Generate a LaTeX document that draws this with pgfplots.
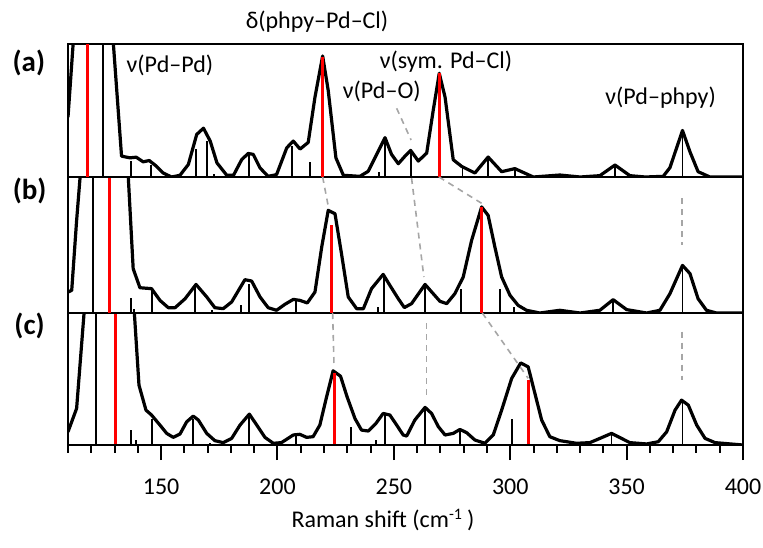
\documentclass[border=0pt]{standalone}
\usepackage{fontspec}
\setmainfont{Carlito}
\usepackage{pgfplots}
\pgfplotsset{compat=1.18}
\definecolor{dashgray}{HTML}{A6A6A6}
\begin{document}
\begin{tikzpicture}
\pgfplotsset{
  panel/.style={width=337.5pt, scale only axis, xmin=110, xmax=400, ymin=0, ymax=1,
    ytick=\empty, axis line style={line width=1pt, black}, anchor=south west},
  curve/.style={black, line width=1.6pt, line join=round, mark=none},
  bstick/.style={ycomb, black, line width=0.9pt, mark=none},
  rstick/.style={ycomb, red, line width=1.5pt, mark=none},
  conn/.style={dashgray, line width=0.8pt, dash pattern=on 3pt off 2.5pt},
}
% ---------------- panel (c) ----------------
\begin{axis}[panel, at={(0,0)}, height=66pt, xtick=\empty]
\addplot[bstick] coordinates {(122.0,1.5) (137.1,0.113) (139.1,0.038) (146.0,0.194) (163.8,0.2) (171.0,0.018) (187.9,0.227) (207.9,0.076) (231.6,0.134) (242.3,0.038) (246.2,0.239) (263.4,0.285) (278.4,0.113) (300.9,0.2) (343.5,0.088) (374.0,0.34)};
\addplot[curve] coordinates {(110.0,0.1) (113.7,0.277) (116.9,1.0) (125,3) (138.4,1.03) (140.5,0.453) (143.5,0.264) (145.9,0.227) (149.5,0.151) (152.4,0.088) (155.2,0.058) (158.1,0.083) (161.0,0.176) (163.8,0.219) (166.0,0.189) (169.6,0.088) (173.1,0.033) (176.7,0.018) (180.3,0.05) (183.9,0.151) (187.9,0.234) (191.1,0.151) (194.6,0.058) (198.2,0.013) (201.7,0.018) (206.8,0.076) (209.6,0.081) (212.5,0.058) (215.3,0.063) (218.2,0.151) (221.1,0.365) (223.9,0.562) (227.1,0.521) (229.9,0.365) (233.3,0.2) (236.1,0.113) (239.0,0.106) (242.3,0.164) (245.4,0.239) (248.3,0.227) (251.2,0.151) (254.0,0.076) (255.5,0.068) (259.0,0.189) (263.4,0.285) (266.2,0.239) (269.1,0.139) (272.0,0.076) (275.5,0.088) (278.4,0.118) (281.3,0.093) (284.8,0.038) (289.1,0.013) (292.7,0.076) (296.3,0.264) (300.6,0.504) (304.5,0.622) (307.7,0.592) (310.6,0.39) (313.5,0.189) (317.0,0.063) (321.3,0.033) (328.5,0.013) (334.2,0.018) (338.5,0.05) (343.5,0.088) (347.8,0.05) (351.4,0.018) (358.6,0.008) (363.6,0.025) (367.2,0.1) (370.8,0.264) (373.6,0.34) (376.5,0.302) (380.1,0.151) (383.7,0.05) (388.0,0.018) (400.0,0.0)};
\addplot[rstick] coordinates {(130.6,1.5) (224.3,0.547) (307.7,0.491)};
\end{axis}
% ---------------- tick axis under panel (c) ----------------
\begin{axis}[at={(0,0)}, anchor=south west, width=337.5pt, height=66pt, scale only axis,
  xmin=110, xmax=400, ymin=0, ymax=1, clip=false,
  axis x line*=bottom, axis y line=none,
  x axis line style={-, line width=1pt, black},
  xtick={150,200,...,400}, minor xtick={110,120,...,400},
  xtick align=outside,
  major tick length=7.5pt, minor tick length=3.8pt,
  major x tick style={line width=1pt, black},
  minor x tick style={line width=1pt, black},
  /pgf/number format/assume math mode=true,
  xticklabel style={font=\fontsize{12}{14}\selectfont, yshift=-6pt}]
% tick marks (major: 7.5pt, minor: 3.8pt below the axis line)
\addplot[ycomb, black, line width=1pt, mark=none] coordinates {(150,-0.1136) (200,-0.1136) (250,-0.1136) (300,-0.1136) (350,-0.1136) (400,-0.1136)};
\addplot[ycomb, black, line width=1pt, mark=none] coordinates {(110,-0.0576) (120,-0.0576) (130,-0.0576) (140,-0.0576) (160,-0.0576) (170,-0.0576) (180,-0.0576) (190,-0.0576) (210,-0.0576) (220,-0.0576) (230,-0.0576) (240,-0.0576) (260,-0.0576) (270,-0.0576) (280,-0.0576) (290,-0.0576) (310,-0.0576) (320,-0.0576) (330,-0.0576) (340,-0.0576) (360,-0.0576) (370,-0.0576) (380,-0.0576) (390,-0.0576)};
\end{axis}
% ---------------- panel (b) ----------------
\begin{axis}[panel, at={(0,66pt)}, height=68pt, xtick=\empty]
\addplot[bstick] coordinates {(120.9,1.5) (137.2,0.113) (138.3,0.03) (146.2,0.172) (164.6,0.216) (171.7,0.02) (184.3,0.056) (187.9,0.216) (207.9,0.105) (243.3,0.044) (245.9,0.277) (263.4,0.216) (278.7,0.179) (295.6,0.179) (301.6,0.044) (344.2,0.093) (374.0,0.35)};
\addplot[curve] coordinates {(110.0,0.154) (111.6,0.167) (113.7,0.68) (115.2,1.0) (122,3) (135.9,1.0) (138.0,0.326) (140.9,0.186) (145.9,0.179) (149.5,0.093) (153.1,0.039) (156.0,0.039) (160.3,0.105) (165.0,0.21) (169.6,0.118) (173.1,0.039) (176.7,0.032) (180.3,0.081) (186.0,0.245) (188.9,0.235) (192.5,0.118) (196.0,0.039) (199.6,0.02) (203.2,0.064) (206.8,0.1) (209.6,0.093) (212.8,0.074) (216.1,0.154) (219.0,0.485) (221.8,0.755) (224.7,0.73) (227.5,0.436) (230.4,0.118) (234.0,0.032) (236.9,0.032) (240.4,0.179) (245.4,0.284) (248.3,0.203) (251.9,0.105) (254.5,0.04) (257.6,0.069) (263.4,0.21) (266.9,0.142) (269.8,0.086) (272.7,0.069) (276.2,0.142) (279.8,0.265) (283.4,0.534) (287.7,0.78) (290.5,0.718) (293.4,0.485) (296.3,0.265) (299.9,0.13) (303.4,0.056) (307.0,0.02) (312.7,0.0) (321.3,0.02) (330.0,0.0) (338.5,0.02) (344.2,0.098) (350.0,0.025) (358.6,0.0) (364.3,0.02) (368.6,0.142) (374.0,0.35) (377.2,0.29) (380.7,0.105) (384.3,0.02) (388.6,0.0) (400.0,0.0)};
\addplot[rstick] coordinates {(128.0,1.5) (223.3,0.645) (287.7,0.78)};
\end{axis}
% ---------------- panel (a) ----------------
\begin{axis}[panel, at={(0,134pt)}, height=66.5pt, xtick=\empty]
\addplot[bstick] coordinates {(125.2,1.5) (137.0,0.12) (145.5,0.09) (165.0,0.21) (169.6,0.27) (172.8,0.02) (187.9,0.18) (206.4,0.23) (214.0,0.11) (243.7,0.04) (246.2,0.3) (257.2,0.2) (279.5,0.07) (290.5,0.15) (302.0,0.06) (345.0,0.09) (374.0,0.35)};
\addplot[curve] coordinates {(110.0,0.45) (112.2,1.0) (120,3) (129.5,1.0) (133.0,0.157) (136.6,0.144) (139.3,0.149) (142.3,0.114) (144.9,0.124) (148.0,0.081) (150.9,0.03) (154.5,0.0) (158.1,0.013) (161.7,0.094) (165.3,0.32) (168.2,0.367) (171.1,0.27) (174.0,0.106) (178.2,0.013) (181.1,0.013) (184.6,0.13) (187.4,0.177) (189.6,0.17) (192.5,0.068) (196.0,0.005) (199.6,0.018) (204.0,0.22) (206.8,0.27) (209.7,0.21) (213.2,0.26) (216.1,0.6) (219.4,0.91) (221.8,0.65) (225.1,0.144) (228.3,0.013) (235.4,0.005) (239.0,0.043) (242.6,0.17) (246.2,0.296) (249.0,0.17) (251.9,0.1) (254.8,0.157) (257.2,0.2) (260.5,0.12) (264.1,0.18) (266.9,0.5) (269.5,0.78) (272.0,0.6) (275.5,0.13) (279.1,0.08) (284.8,0.03) (290.5,0.15) (296.3,0.04) (302.0,0.063) (309.9,0.0) (321.3,0.015) (330.0,0.0) (338.5,0.01) (345.0,0.09) (351.4,0.01) (358.0,0.0) (365.7,0.005) (368.6,0.07) (374.0,0.35) (377.2,0.19) (380.7,0.04) (385.8,0.0) (400.0,0.0)};
\addplot[rstick] coordinates {(118.3,1.5) (219.5,0.9) (269.5,0.78)};
\end{axis}
% ---------------- overlay: connectors and labels ----------------
\begin{axis}[at={(0,0)}, anchor=south west, width=337.5pt, height=200.5pt, scale only axis,
  xmin=110, xmax=400, ymin=0, ymax=401, hide axis, clip=false]
\addplot[conn] coordinates {(219.4,268) (221.8,239)};
\addplot[conn] coordinates {(223.7,132) (224.3,78)};
\addplot[conn] coordinates {(251.2,336.7) (257.4,305)};
\addplot[conn] coordinates {(257.6,267) (262.9,168)};
\addplot[conn] coordinates {(264.1,122) (264.1,50)};
\addplot[conn] coordinates {(269.4,268) (287.7,241.7)};
\addplot[conn] coordinates {(288.0,132) (307.7,66.7)};
\addplot[conn] coordinates {(373.7,247) (373.7,200)};
\addplot[conn] coordinates {(373.7,113.3) (373.7,65)};
\tikzset{lab/.style={font=\fontsize{12}{14}\selectfont, inner sep=0pt, anchor=center}}
\node[lab] at (axis cs:217,423) {δ(phpy–Pd–Cl)};
\node[lab] at (axis cs:272.4,383) {ν(sym. Pd–Cl)};
\node[lab] at (axis cs:244.8,354) {ν(Pd–O)};
\node[lab] at (axis cs:153.8,380) {ν(Pd–Pd)};
\node[lab] at (axis cs:364.6,347) {ν(Pd–phpy)};
\tikzset{plab/.style={font=\fontsize{14.5}{16}\selectfont\bfseries, inner sep=0pt, anchor=center}}
\node[plab] at (axis cs:93.2,382) {(a)};
\node[plab] at (axis cs:93.5,254) {(b)};
\node[plab] at (axis cs:93.5,119) {(c)};
\node[lab] at (axis cs:245.3,-75) {Raman shift (cm\textsuperscript{-1}\,)};
\end{axis}
\pgfresetboundingbox
\useasboundingbox (-34pt,-51pt) rectangle (347.5pt,222.5pt);
\end{tikzpicture}
\end{document}
